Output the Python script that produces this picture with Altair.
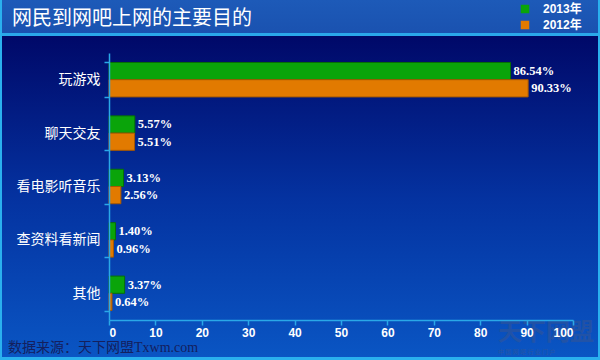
import altair as alt
import pandas as pd

# ---------------- data ----------------
categories = ["玩游戏", "聊天交友", "看电影听音乐", "查资料看新闻", "其他"]
years = ["2013年", "2012年"]
v2013 = [86.54, 5.57, 3.13, 1.40, 3.37]
v2012 = [90.33, 5.51, 2.56, 0.96, 0.64]
x_ticks = [0, 10, 20, 30, 40, 50, 60, 70, 80, 90, 100]
title_text = "网民到网吧上网的主要目的"
source_text = "数据来源：天下网盟Txwm.com"

rows = []
for c, a, b in zip(categories, v2013, v2012):
    rows.append({"cat": c, "year": years[0], "value": a, "label": f"{a:.2f}%"})
    rows.append({"cat": c, "year": years[1], "value": b, "label": f"{b:.2f}%"})
df = pd.DataFrame(rows)

# ---------------- layout ----------------
W, H = 464, 267
PL, PT, PR, PB = 109, 53, 27, 40
one = pd.DataFrame({"k": [0]})

GREEN, GREEN_D = "#0aa40a", "#067006"
ORANGE, ORANGE_D = "#e27a00", "#a85800"
CYAN = "#2aa8e8"


def rect(x0, y0, x1, y1, fill):
    return alt.Chart(one).mark_rect(color=fill).encode(
        x=alt.value(x0 - PL), x2=alt.value(x1 - PL),
        y=alt.value(y0 - PT), y2=alt.value(y1 - PT))


def vgrad(c0, c1, cm=None):
    stops = [alt.GradientStop(color=c0, offset=0)]
    if cm:
        stops.append(alt.GradientStop(color=cm, offset=0.5))
    stops.append(alt.GradientStop(color=c1, offset=1))
    return alt.Gradient(gradient="linear", stops=stops, x1=0, x2=0, y1=0, y2=1)


body = rect(0, 35, 600, 360, vgrad("#000868", "#0a56c4", "#0432a0"))
titlebar = rect(0, 0, 600, 33, vgrad("#1d5ab8", "#1a52b0"))
sep = rect(0, 33, 600, 36, "#2aa8ea")
b_left = rect(0, 0, 2, 360, "#2ab0ee")
b_right = rect(598, 0, 600, 360, "#2ab0ee")
b_bottom = rect(0, 357, 600, 360, "#2ab0ee")

title = alt.Chart(one).mark_text(
    text=title_text, align="left", baseline="alphabetic", font="Noto Sans CJK SC",
    fontSize=20, color="white").encode(x=alt.value(12 - PL), y=alt.value(25 - PT))

source = alt.Chart(one).mark_text(
    text=source_text, align="left", baseline="alphabetic",
    font="Liberation Serif, Noto Sans CJK SC", fontSize=14, color="#14205e").encode(
    x=alt.value(8 - PL), y=alt.value(352 - PT))

wm1 = alt.Chart(one).mark_text(
    text="天下网盟", align="left", baseline="alphabetic", font="Noto Sans CJK SC",
    fontSize=24, fontWeight="bold", color="#3a5590", opacity=0.5).encode(
    x=alt.value(498 - PL), y=alt.value(340 - PT))
wm2 = alt.Chart(one).mark_text(
    text="中 国 网 吧 行 业 门 户", align="left", baseline="alphabetic",
    font="Noto Sans CJK SC", fontSize=6, color="#3a5590", opacity=0.6).encode(
    x=alt.value(498 - PL), y=alt.value(354 - PT))

# ---------------- bars ----------------
x_enc = alt.X(
    "value:Q", scale=alt.Scale(domain=[0, 100], nice=False),
    axis=alt.Axis(title=None, values=x_ticks, grid=False, domainColor=CYAN,
                  domainWidth=1.5, tickColor=CYAN, tickSize=5, tickWidth=1.5,
                  labelColor="white", labelFont="Liberation Sans", labelFontWeight="bold",
                  labelFontSize=12, labelPadding=2, zindex=2))
y_enc = alt.Y(
    "cat:N", sort=categories,
    scale=alt.Scale(paddingInner=0.355, paddingOuter=0.1775),
    axis=alt.Axis(title=None, domainColor=CYAN, domainWidth=1.5, tickColor=CYAN,
                  tickSize=5, tickWidth=1.5, tickBand="extent", labelColor="white",
                  labelFont="Noto Sans CJK SC", labelFontSize=14, labelPadding=4,
                  zindex=2))
yo_enc = alt.YOffset("year:N", sort=years)

bars = alt.Chart(df).mark_bar(strokeWidth=1).encode(
    x=x_enc, y=y_enc, yOffset=yo_enc,
    color=alt.Color("year:N", sort=years,
                    scale=alt.Scale(domain=years, range=[GREEN, ORANGE]),
                    legend=alt.Legend(title=None, orient="none", legendX=410, legendY=-50,
                                      padding=0, symbolType="square", symbolSize=72,
                                      symbolStrokeWidth=0, labelColor="white",
                                      labelFont="Liberation Sans, Noto Sans CJK SC",
                                      labelFontWeight="bold", labelFontSize=12,
                                      labelOffset=12, rowPadding=4)),
    stroke=alt.Stroke("year:N", sort=years,
                      scale=alt.Scale(domain=years, range=[GREEN_D, ORANGE_D]),
                      legend=None),
)

labels = alt.Chart(df).mark_text(
    align="left", baseline="middle", dx=3, font="Liberation Serif",
    fontWeight="bold", fontSize=12.5, color="white").encode(
    x="value:Q", y=alt.Y("cat:N", sort=categories), yOffset=yo_enc, text="label:N")

chart = alt.layer(
    body, titlebar, sep, b_left, b_right, b_bottom, wm1, wm2,
    title, source, bars, labels,
).properties(
    width=W, height=H,
    padding={"left": PL, "top": PT, "right": PR, "bottom": PB},
    autosize=alt.AutoSizeParams(type="none"),
    background="#0a2a8a",
).configure_view(stroke=None)

chart.save("out.html", embed_options={"renderer": "svg", "actions": False})
